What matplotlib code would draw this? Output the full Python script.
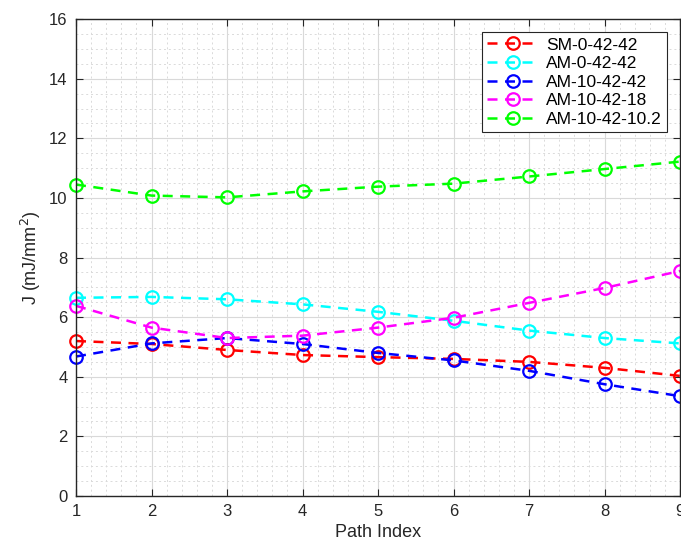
import numpy as np
import matplotlib
matplotlib.use("Agg")
import matplotlib.pyplot as plt
from matplotlib.ticker import MultipleLocator

plt.rcParams["font.family"] = ["Liberation Sans", "DejaVu Sans"]

# --- data ---
path_index = [1, 2, 3, 4, 5, 6, 7, 8, 9]
sm_0_42_42 = [5.20, 5.10, 4.90, 4.73, 4.66, 4.60, 4.50, 4.30, 4.03]
am_0_42_42 = [6.65, 6.68, 6.60, 6.43, 6.18, 5.88, 5.55, 5.30, 5.12]
am_10_42_42 = [4.68, 5.12, 5.30, 5.10, 4.80, 4.55, 4.20, 3.75, 3.35]
am_10_42_18 = [6.38, 5.65, 5.30, 5.38, 5.65, 5.98, 6.48, 6.98, 7.55]
am_10_42_102 = [10.45, 10.08, 10.02, 10.22, 10.38, 10.48, 10.72, 10.97, 11.22]

labels = ["SM-0-42-42", "AM-0-42-42", "AM-10-42-42", "AM-10-42-18", "AM-10-42-10.2"]
colors = ["#ff0000", "#00ffff", "#0000ff", "#ff00ff", "#00ff00"]
series = [sm_0_42_42, am_0_42_42, am_10_42_42, am_10_42_18, am_10_42_102]

fig = plt.figure(figsize=(6.81, 5.45), dpi=100)
ax = fig.add_axes([0.1116, 0.0899, 0.887, 0.875])

for vals, lab, col in zip(series, labels, colors):
    ax.plot(path_index, vals, linestyle="--", color=col, linewidth=1.8,
            marker="o", markersize=9, markerfacecolor="none",
            markeredgewidth=1.6, label=lab, dashes=(4, 3), clip_on=False)

ax.set_xlim(1, 9)
ax.set_ylim(0, 16)
ax.xaxis.set_major_locator(MultipleLocator(1))
ax.yaxis.set_major_locator(MultipleLocator(2))
ax.xaxis.set_minor_locator(MultipleLocator(0.2))
ax.yaxis.set_minor_locator(MultipleLocator(0.5))

ax.grid(which="major", color="#d9d9d9", linewidth=0.8, linestyle="-")
ax.grid(which="minor", color="#dadada", linewidth=0.7, linestyle=(0, (2, 3)))
ax.set_axisbelow(True)

ax.tick_params(which="major", direction="in", length=5, top=True, right=True,
               labelsize=12, colors="#262626", pad=6)
ax.tick_params(which="minor", length=0)
for s in ax.spines.values():
    s.set_color("#262626")
    s.set_linewidth(1.0)

ax.set_xlabel("Path Index", fontsize=13, color="#262626", labelpad=3)
ax.set_ylabel("J (mJ/mm$^2$)", fontsize=13, color="#262626", labelpad=4)

leg = ax.legend(loc="upper right", fontsize=12.5,
                frameon=True, fancybox=False, borderpad=0.3, labelspacing=0.2,
                handlelength=3.0, handletextpad=0.4, borderaxespad=0.75)
leg.get_frame().set_edgecolor("#262626")
leg.get_frame().set_linewidth(0.8)
leg.get_frame().set_alpha(1)

fig.savefig("out.png", dpi=100)
